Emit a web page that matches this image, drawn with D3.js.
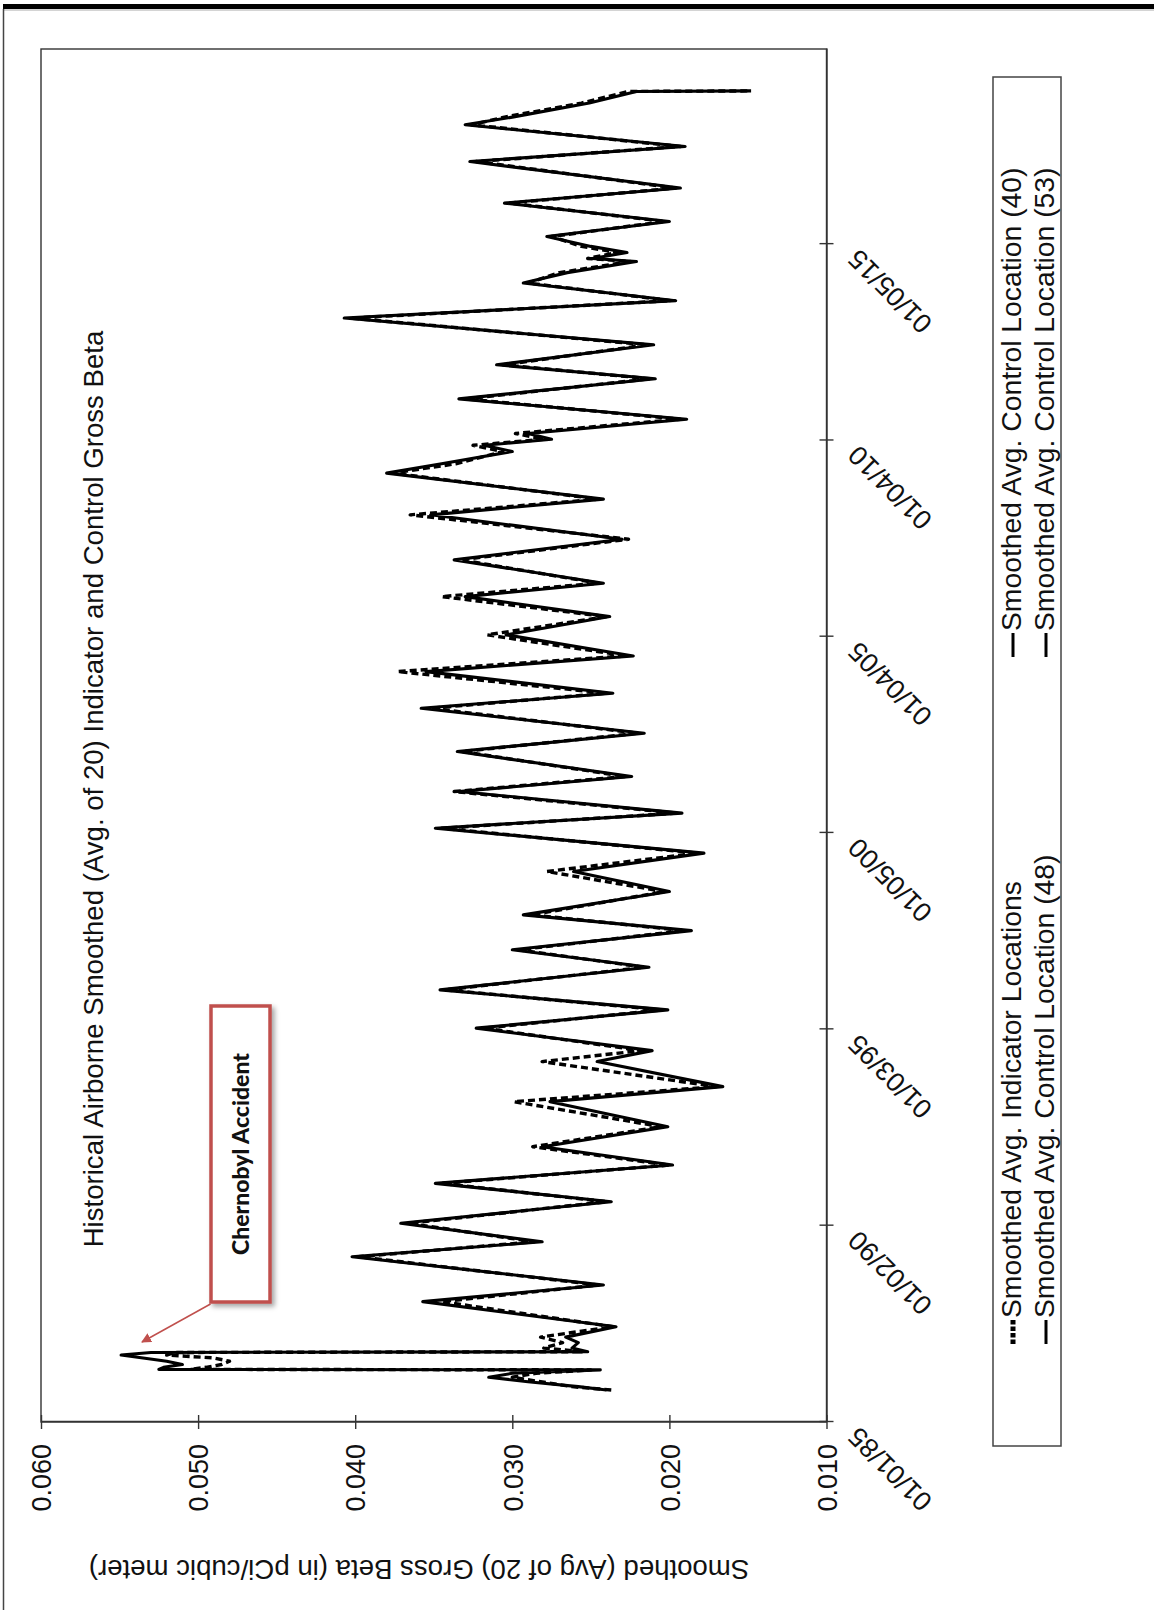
<!DOCTYPE html>
<html>
<head>
<meta charset="utf-8">
<script src="https://cdn.jsdelivr.net/npm/d3@7"></script>
<style>
  html, body { margin: 0; padding: 0; background: #fff; }
  svg { display: block; }
  text { font-family: Arial, "Liberation Sans", sans-serif; fill: #111; }
</style>
</head>
<body>
<div id="chart"></div>
<script>
/* Airborne gross beta, 20-point smoothed averages.
   The chart is laid out in its normal orientation and then turned
   90 degrees counter-clockwise, the way it sits in the source page. */

const TITLE = "Historical Airborne Smoothed (Avg. of 20) Indicator and Control Gross Beta";
const Y_TITLE = "Smoothed (Avg of 20) Gross Beta (in pCi/cubic meter)";
const SERIES_NAMES = [
  "Smoothed Avg. Indicator Locations",
  "Smoothed Avg. Control Location (48)",
  "Smoothed Avg. Control Location (40)",
  "Smoothed Avg. Control Location (53)"
];

const valueTicks = [0.010, 0.020, 0.030, 0.040, 0.050, 0.060];
const dateTicks = ["1985-01-01", "1990-01-02", "1995-01-03", "2000-01-05", "2005-01-04", "2010-01-04", "2015-01-05"];
const dateDomain = ["1985-01-01", "2019-12-26"];

// sample dates shared by the traced series
const dates = [
  "1985-10-26", "1985-11-26", "1986-01-11", "1986-02-21", "1986-03-30", "1986-05-01",
  "1986-05-06", "1986-05-25", "1986-06-20", "1986-07-20", "1986-08-20", "1986-09-16",
  "1986-10-10", "1986-10-17", "1986-11-20", "1987-01-10", "1987-03-02", "1987-06-07",
  "1988-01-26", "1988-06-29", "1989-03-19", "1989-08-05", "1990-01-24", "1990-08-13",
  "1991-01-31", "1991-07-20", "1992-01-07", "1992-07-11", "1993-03-01", "1993-07-19",
  "1994-03-09", "1994-06-19", "1995-01-14", "1995-07-03", "1996-01-05", "1996-08-03",
  "1997-01-12", "1997-07-10", "1997-12-03", "1998-07-08", "1999-01-11", "1999-07-01",
  "2000-02-18", "2000-07-07", "2001-01-24", "2001-06-13", "2002-01-31", "2002-07-21",
  "2003-03-10", "2003-07-28", "2004-02-14", "2004-07-09", "2005-01-21", "2005-07-10",
  "2006-01-12", "2006-05-17", "2006-12-20", "2007-06-30", "2008-02-12", "2008-07-07",
  "2009-03-06", "2009-06-01", "2009-09-23", "2009-11-20", "2010-01-15", "2010-03-10",
  "2010-07-21", "2011-01-26", "2011-08-01", "2011-12-09", "2012-06-12", "2013-02-16",
  "2013-07-28", "2014-01-08", "2014-04-15", "2014-07-27", "2014-08-25", "2014-10-19",
  "2014-12-15", "2015-03-17", "2015-08-04", "2016-01-22", "2016-06-10", "2017-02-12",
  "2017-07-02", "2018-01-20", "2018-04-01", "2018-08-10", "2018-11-26", "2018-12-01"
];

const indicator = [
  0.0237, 0.0262, 0.0282, 0.0300, 0.0285, 0.0250,
  0.0505, 0.0495, 0.0485, 0.0480, 0.0490, 0.0520,
  0.0515, 0.0255, 0.0280, 0.0268, 0.0282, 0.0236,
  0.0345, 0.0245, 0.0398, 0.0286, 0.0366, 0.0240,
  0.0345, 0.0200, 0.0287, 0.0205, 0.0299, 0.0170,
  0.0281, 0.0218, 0.0318, 0.0205, 0.0343, 0.0216,
  0.0296, 0.0190, 0.0288, 0.0203, 0.0278, 0.0182,
  0.0345, 0.0195, 0.0337, 0.0228, 0.0332, 0.0220,
  0.0352, 0.0240, 0.0373, 0.0227, 0.0316, 0.0240,
  0.0345, 0.0245, 0.0333, 0.0226, 0.0365, 0.0245,
  0.0376, 0.0336, 0.0306, 0.0325, 0.0280, 0.0298,
  0.0193, 0.0330, 0.0212, 0.0306, 0.0214, 0.0403,
  0.0199, 0.0290, 0.0270, 0.0225, 0.0252, 0.0233,
  0.0256, 0.0275, 0.0203, 0.0302, 0.0196, 0.0323,
  0.0193, 0.0326, 0.0305, 0.0256, 0.0226, 0.0150
];

const control48 = [
  0.0240, 0.0258, 0.0290, 0.0315, 0.0300, 0.0244,
  0.0525, 0.0522, 0.0510, 0.0520, 0.0535, 0.0549,
  0.0530, 0.0252, 0.0262, 0.0258, 0.0266, 0.0234,
  0.0357, 0.0242, 0.0402, 0.0281, 0.0371, 0.0237,
  0.0349, 0.0198, 0.0281, 0.0201, 0.0276, 0.0166,
  0.0246, 0.0211, 0.0323, 0.0201, 0.0346, 0.0213,
  0.0300, 0.0186, 0.0293, 0.0200, 0.0261, 0.0178,
  0.0349, 0.0192, 0.0334, 0.0224, 0.0335, 0.0216,
  0.0358, 0.0236, 0.0355, 0.0223, 0.0304, 0.0238,
  0.0330, 0.0242, 0.0337, 0.0230, 0.0352, 0.0242,
  0.0380, 0.0345, 0.0300, 0.0318, 0.0275, 0.0290,
  0.0189, 0.0334, 0.0209, 0.0310, 0.0210, 0.0407,
  0.0196, 0.0293, 0.0265, 0.0221, 0.0249, 0.0227,
  0.0250, 0.0278, 0.0200, 0.0305, 0.0193, 0.0327,
  0.0190, 0.0330, 0.0300, 0.0251, 0.0221, 0.0148
];

// no separate trace of these is visible in the source; listed in the legend only
const control40 = [];
const control53 = [];

const ANNOTATION = "Chernobyl Accident";
const RED = "#c0504d";

(() => {
  const W = 1154, H = 1610;
  const parse = d3.timeParse("%Y-%m-%d");
  const fmt = d3.timeFormat("%m/%d/%y");

  const svg = d3.select("#chart").append("svg").attr("width", W).attr("height", H);

  // page frame: heavy rule on top, thin rule on the left
  svg.append("rect").attr("x", 3).attr("y", 4).attr("width", W - 3).attr("height", 5).attr("fill", "#000");
  svg.append("line").attr("x1", 3).attr("x2", W).attr("y1", 10).attr("y2", 10)
    .attr("stroke", "#aaa").attr("stroke-width", 1);
  svg.append("line").attr("x1", 3.5).attr("x2", 3.5).attr("y1", 9).attr("y2", H)
    .attr("stroke", "#444").attr("stroke-width", 1.5);

  const defs = svg.append("defs");
  defs.append("filter").attr("id", "shadow").attr("x", "-20%").attr("y", "-20%")
    .attr("width", "140%").attr("height", "140%")
    .append("feDropShadow").attr("dx", -3).attr("dy", 3).attr("stdDeviation", 2.5)
    .attr("flood-color", "#000").attr("flood-opacity", 0.35);
  defs.append("marker").attr("id", "arrow").attr("viewBox", "0 0 10 10")
    .attr("refX", 9).attr("refY", 5).attr("markerWidth", 10).attr("markerHeight", 10)
    .attr("markerUnits", "userSpaceOnUse").attr("orient", "auto")
    .append("path").attr("d", "M0,0 L10,5 L0,10 Z").attr("fill", RED);

  // everything below is drawn in the chart's own orientation, then rotated
  const g = svg.append("g").attr("transform", `translate(0,${H}) rotate(-90)`);
  const plot = { left: 188, right: 1561, top: 41, bottom: 826.5 };

  const x = d3.scaleTime().domain(dateDomain.map(parse)).range([plot.left, plot.right]);
  const y = d3.scaleLinear().domain([0.010, 0.060]).range([plot.bottom, plot.top]);

  g.append("rect")
    .attr("x", plot.left).attr("y", plot.top)
    .attr("width", plot.right - plot.left).attr("height", plot.bottom - plot.top)
    .attr("fill", "none").attr("stroke", "#333").attr("stroke-width", 1.4);

  // value axis
  const ya = g.append("g").attr("transform", `translate(${plot.left},0)`)
    .call(d3.axisLeft(y).tickValues(valueTicks).tickFormat(d3.format(".3f")).tickSizeOuter(0));
  ya.select(".domain").attr("stroke", "#333").attr("stroke-width", 1.4);
  ya.selectAll(".tick line").attr("x1", -7).attr("x2", 7).attr("stroke", "#333").attr("stroke-width", 1.4);
  ya.selectAll(".tick text").attr("x", -22).attr("dy", "0.36em")
    .attr("text-anchor", "end").style("font-size", "27px").style("font-family", null);

  // date axis
  const xa = g.append("g").attr("transform", `translate(0,${plot.bottom})`)
    .call(d3.axisBottom(x).tickValues(dateTicks.map(parse)).tickFormat(fmt).tickSizeOuter(0));
  xa.select(".domain").attr("stroke", "#333").attr("stroke-width", 1.4);
  xa.selectAll(".tick line").attr("y1", -7).attr("y2", 7).attr("stroke", "#333").attr("stroke-width", 1.4);
  xa.selectAll(".tick text").attr("x", 0).attr("y", 0).attr("dy", 0)
    .attr("transform", "translate(-4,33) rotate(-45)")
    .attr("text-anchor", "end").style("font-size", "27px").style("font-family", null);
  g.selectAll(".tick text").attr("fill", "#111");

  // series
  const pts = (vals) => vals.map((v, i) => [parse(dates[i]), v]);
  const line = d3.line().x((d) => x(d[0])).y((d) => y(d[1]));
  const series = [
    { name: SERIES_NAMES[0], data: pts(indicator), dash: "7,4", width: 3.4 },
    { name: SERIES_NAMES[1], data: pts(control48), dash: null, width: 3.1 },
    { name: SERIES_NAMES[2], data: control40, dash: null, width: 3.1 },
    { name: SERIES_NAMES[3], data: control53, dash: null, width: 3.1 }
  ];
  g.selectAll("path.series").data(series.filter((s) => s.data.length)).join("path")
    .attr("class", "series")
    .attr("d", (s) => line(s.data))
    .attr("fill", "none").attr("stroke", "#000")
    .attr("stroke-width", (s) => s.width)
    .attr("stroke-dasharray", (s) => s.dash)
    .attr("stroke-linejoin", "round");

  // titles
  g.append("text").attr("x", 821).attr("y", 103)
    .attr("text-anchor", "middle").style("font-size", "27.6px").text(TITLE);
  g.append("text").attr("transform", "translate(50,419) rotate(-90)")
    .attr("text-anchor", "middle").style("font-size", "27.6px").text(Y_TITLE);

  // legend
  const lg = g.append("g");
  lg.append("rect").attr("x", 164).attr("y", 993).attr("width", 1369).attr("height", 68)
    .attr("fill", "#fff").attr("stroke", "#444").attr("stroke-width", 1.5);
  const slots = [[266, 1021], [953, 1021], [266, 1054], [953, 1054]];
  const order = [0, 2, 1, 3];
  order.forEach((si, k) => {
    const s = series[si], [lx, ly] = slots[k];
    lg.append("line").attr("x1", lx).attr("x2", lx + 24).attr("y1", ly - 8).attr("y2", ly - 8)
      .attr("stroke", "#000").attr("stroke-width", s.dash ? 5 : 3)
      .attr("stroke-dasharray", s.dash ? "4.5,2" : null);
    lg.append("text").attr("x", lx + 26).attr("y", ly).style("font-size", "28.3px").text(s.name);
  });

  // Chernobyl call-out
  const an = g.append("g");
  an.append("line").attr("x1", 306).attr("y1", 210.5).attr("x2", 268).attr("y2", 142)
    .attr("stroke", RED).attr("stroke-width", 1.5).attr("marker-end", "url(#arrow)");
  an.append("rect").attr("x", 308).attr("y", 211).attr("width", 296).attr("height", 59)
    .attr("fill", "#fff").attr("stroke", RED).attr("stroke-width", 3.5)
    .attr("filter", "url(#shadow)");
  an.append("text").attr("x", 456).attr("y", 249).attr("text-anchor", "middle")
    .style("font-family", "Lato, 'Open Sans', sans-serif").style("font-weight", "900")
    .style("font-size", "23px").text(ANNOTATION);
})();
</script>
</body>
</html>
